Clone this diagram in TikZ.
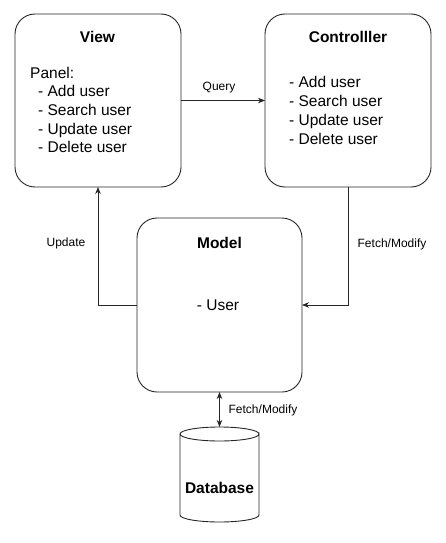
\documentclass[tikz,border=0pt]{standalone}
\usepackage{fontspec}
\setmainfont{Liberation Sans}
\usetikzlibrary{arrows.meta}
\begin{document}
\begin{tikzpicture}[x=1pt,y=-1pt,
  box/.style={draw=black!85, line width=0.9pt, rounded corners=20pt, inner sep=0pt, outer sep=0pt},
  ttl/.style={font=\fontsize{15.5}{18}\selectfont\bfseries, anchor=base, inner sep=0pt},
  itm/.style={font=\fontsize{15.5}{18}\selectfont, anchor=base west, inner sep=0pt},
  lbl/.style={font=\fontsize{12}{14}\selectfont, anchor=base, inner sep=0pt},
  arr/.style={draw=black!85, line width=0.8pt, -{Stealth[length=7pt,width=5.5pt]}},
  darr/.style={draw=black!85, line width=0.8pt, {Stealth[length=7pt,width=5.5pt]}-{Stealth[length=7pt,width=5.5pt]}}]
\useasboundingbox (0,0) rectangle (445,543);
\fill[white] (0,0) rectangle (445,543);
% boxes
\node[box, minimum width=166pt, minimum height=173pt] (view) at (98,100.5) {};
\node[box, minimum width=166pt, minimum height=173pt] (ctrl) at (348,100.5) {};
\node[box, minimum width=165pt, minimum height=174pt] (model) at (219.5,305) {};
% database cylinder
\node[inner sep=0pt, outer sep=0pt, minimum width=79pt, minimum height=95pt] (db) at (219.5,474.5) {};
\draw[black!85, line width=0.9pt] ([yshift=-7pt]db.north west) -- ([yshift=7pt]db.south west)
  arc[start angle=180, end angle=360, x radius=39.5pt, y radius=7pt]
  -- ([yshift=-7pt]db.north east)
  arc[start angle=0, end angle=-180, x radius=39.5pt, y radius=7pt]
  arc[start angle=180, end angle=0, x radius=39.5pt, y radius=7pt];
% View text
\node[ttl] (vt) at (97.5,42.5) {View};
\node[itm] (v0) at (30,78.5) {Panel:};
\node[itm] (v1) at (38,96.5) {- Add user};
\node[itm] (v2) at (38,115.5) {- Search user};
\node[itm] (v3) at (38,134.5) {- Update user};
\node[itm] (v4) at (38,152.5) {- Delete user};
% Controller text
\node[ttl] (ct) at (348,42.5) {Controlller};
\node[itm] (c1) at (289,87.5) {- Add user};
\node[itm] (c2) at (289,106) {- Search user};
\node[itm] (c3) at (289,125) {- Update user};
\node[itm] (c4) at (289,144) {- Delete user};
% Model text
\node[ttl] (mt) at (219.5,248.5) {Model};
\node[font=\fontsize{15.5}{18}\selectfont, anchor=base, inner sep=0pt] (mu) at (218,310.5) {- User};
% Database text
\node[ttl] (dt) at (219.5,493.5) {Database};
% connectors
\draw[arr] (view) -- (ctrl);
\draw[arr] (model.west) -| (view.south);
\draw[arr] (ctrl.south) |- (model.east);
\draw[darr] (model.south) -- (db.north);
% labels
\node[lbl] (lq) at (219,90.5) {Query};
\node[lbl] (lu) at (66,246.5) {Update};
\node[lbl] (lf) at (392,247) {Fetch/Modify};
\node[lbl] (lf2) at (263,413) {Fetch/Modify};
\end{tikzpicture}
\end{document}
